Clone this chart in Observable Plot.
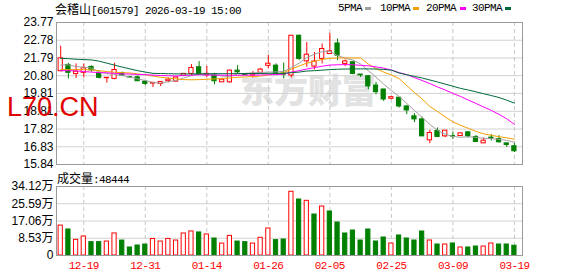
<!DOCTYPE html>
<html><head><meta charset="utf-8">
<script src="https://cdn.jsdelivr.net/npm/d3@7"></script>
<script src="https://cdn.jsdelivr.net/npm/@observablehq/plot@0.6"></script>
<style>
body{margin:0;background:#fff;}
#wrap{position:relative;width:578px;height:276px;overflow:hidden;background:#fff;}
.abs{position:absolute;white-space:nowrap;}
.mono{font-family:"Liberation Mono",monospace;font-size:11px;letter-spacing:-0.6px;line-height:15px;color:#000;}
.cjk{font-family:"Noto Sans CJK SC",sans-serif;font-size:12px;letter-spacing:0;}
.mk{position:absolute;height:3px;width:6px;top:7px;}
#wm{left:240px;top:72px;font-family:"Noto Sans CJK SC",sans-serif;font-weight:900;font-size:34px;line-height:34px;color:#e2e2e2;}
#red{left:7px;top:94px;font-family:"Liberation Sans",Arial,sans-serif;font-size:27px;line-height:27px;color:#e00000;z-index:5;}
#wrap svg{position:absolute;left:0;}
g[aria-label="x-axis tick label"] text{letter-spacing:-0.6px;}
</style>
</head><body>
<div id="wrap">
  <div id="wm" class="abs">东方财富</div>
  <div class="abs mono" style="left:55px;top:1px;"><span class="cjk">会稽山</span>[601579] 2026-03-19 15:00</div>
  <div class="abs mono" style="left:338px;top:1px;">5PMA</div>
  <div class="mk" style="left:365px;background:#a0a0a0;"></div>
  <div class="abs mono" style="left:380px;top:1px;">10PMA</div>
  <div class="mk" style="left:413px;background:#f5a000;"></div>
  <div class="abs mono" style="left:426px;top:1px;">20PMA</div>
  <div class="mk" style="left:460px;background:#ff00ff;"></div>
  <div class="abs mono" style="left:472px;top:1px;">30PMA</div>
  <div class="mk" style="left:505px;background:#00693a;"></div>
  <div class="abs mono" style="left:57px;top:170px;"><span class="cjk">成交量</span>:48444</div>
</div>
<script>
const dates = ["2025-12-16","2025-12-17","2025-12-18","2025-12-19","2025-12-22","2025-12-23","2025-12-24","2025-12-25","2025-12-26","2025-12-29","2025-12-30","2025-12-31","2026-01-05","2026-01-06","2026-01-07","2026-01-08","2026-01-09","2026-01-12","2026-01-13","2026-01-14","2026-01-15","2026-01-16","2026-01-19","2026-01-20","2026-01-21","2026-01-22","2026-01-23","2026-01-26","2026-01-27","2026-01-28","2026-01-29","2026-01-30","2026-02-02","2026-02-03","2026-02-04","2026-02-05","2026-02-06","2026-02-09","2026-02-10","2026-02-11","2026-02-12","2026-02-13","2026-02-24","2026-02-25","2026-02-26","2026-02-27","2026-03-02","2026-03-03","2026-03-04","2026-03-05","2026-03-06","2026-03-09","2026-03-10","2026-03-11","2026-03-12","2026-03-13","2026-03-16","2026-03-17","2026-03-18","2026-03-19"];

const open  = [21.05,21.40,20.89,20.96,21.29,20.96,20.66,20.62,20.93,20.72, 20.71,20.47,20.36,20.34,20.49,20.47,20.79,20.90,21.27,20.82, 20.86,20.43,20.43,21.08,20.86,20.82,20.96,21.35,21.36,20.92, 20.81,23.03,21.60,21.31,21.74,22.01,22.60,21.46,21.55,20.86, 20.77,20.25,20.03,19.51,19.57,19.08,18.53,18.36,17.19,17.71, 17.41,17.43,17.43,17.64,17.38,17.02,17.34,17.26,17.02,16.86];
const high  = [22.44,21.49,21.46,21.46,21.35,20.99,20.68,21.49,21.00,20.76, 20.78,20.53,20.42,20.46,20.67,20.75,20.93,21.42,21.59,21.32, 20.93,20.66,21.12,21.36,20.89,21.03,21.21,21.94,21.46,21.51, 23.03,23.07,22.66,22.10,22.57,23.16,22.85,21.68,21.56,20.86, 20.81,20.43,20.03,19.64,19.58,19.14,18.68,18.49,17.75,17.88, 17.73,17.65,17.60,17.64,17.45,17.32,17.51,17.45,17.04,17.01];
const low   = [21.02,20.62,20.64,20.68,21.00,20.62,20.38,20.57,20.75,20.65, 20.47,20.25,20.14,20.19,20.40,20.43,20.75,20.75,20.81,20.68, 20.29,20.43,20.38,20.90,20.81,20.68,20.90,21.18,20.82,20.62, 20.68,21.64,21.27,21.12,21.46,22.01,21.64,21.31,20.85,20.70, 20.01,19.73,19.36,19.46,18.99,18.62,18.18,17.41,17.01,17.34, 17.34,17.23,17.43,17.32,17.06,17.02,17.15,17.04,16.79,16.51];
const close = [21.77,20.96,21.02,21.21,21.10,20.68,20.68,21.12,20.81,20.70, 20.49,20.34,20.40,20.45,20.58,20.70,20.90,21.23,20.86,20.90, 20.49,20.58,21.08,20.99,20.83,20.90,21.14,21.47,20.90,20.86, 23.03,21.74,21.97,21.59,22.29,22.16,21.92,21.60,20.90,20.82, 20.20,19.88,19.47,19.60,19.08,18.86,18.36,17.41,17.60,17.38, 17.73,17.40,17.58,17.41,17.10,17.17,17.30,17.08,16.93,16.58];

const volume = [148000,128600,77500,94000,66000,66000,69000,109000,74000,39600, 49500,54000,82000,69000,82000,74000,109000,119000,114000,104000, 84000,59000,97000,69000,66000,59000,87500,133500,76000,79000, 315000,276900,270400,202700,242300,217600,163200,108800,123600,74200, 128600,69200,89000,59300,98900,84000,74200,118700,74200,54400, 54400,59300,39600,39600,44500,44500,59300,54400,54400,48444];
const volUp = [1,0,1,1,0,0,1,1,0,0, 0,0,1,1,1,1,1,1,0,1, 0,1,1,0,0,1,1,1,0,0, 1,0,1,0,1,0,0,0,0,0, 0,0,0,1,0,0,0,0,1,0, 1,0,1,0,0,1,1,0,0,0];

const ma5  = [21.40,21.40,21.31,21.28,21.22,21.00,20.92,20.86,20.81,20.72, 20.62,20.53,20.42,20.39,20.47,20.53,20.67,20.81,20.90,20.90, 20.86,20.78,20.75,20.89,20.93,20.96,20.98,21.00,21.01,21.04, 21.25,21.50,21.81,22.00,22.14,22.17,21.92,21.78,21.67,21.45, 21.08,20.72,20.33,19.97,19.64,19.25,18.86,18.47,18.08,17.75, 17.53,17.41,17.36,17.39,17.36,17.30,17.28,17.25,17.19,17.08];
const ma10 = [21.14,21.14,21.14,21.14,21.12,21.08,21.03,20.99,20.97,20.95, 20.90,20.85,20.78,20.71,20.67,20.62,20.58,20.57,20.58,20.60, 20.62,20.64,20.67,20.71,20.73,20.75,20.78,20.84,20.90,20.97, 21.17,21.34,21.50,21.61,21.71,21.77,21.79,21.79,21.79,21.79, 21.45,21.20,21.00,20.84,20.64,20.25,19.86,19.50,19.08,18.80, 18.50,18.22,18.03,17.86,17.69,17.55,17.47,17.39,17.33,17.25];
const ma20 = [21.08,21.08,21.07,21.03,21.00,20.97,20.96,20.93,20.90,20.89, 20.87,20.86,20.83,20.81,20.80,20.78,20.81,20.83,20.85,20.84, 20.83,20.83,20.82,20.82,20.83,20.83,20.84,20.85,20.86,20.89, 21.00,21.08,21.17,21.25,21.33,21.39,21.41,21.42,21.41,21.38, 21.35,21.29,21.22,21.12,20.97,20.86,20.69,20.53,20.36,20.17, 20.00,19.81,19.64,19.44,19.25,19.05,18.86,18.64,18.39,18.08];
const ma30 = [21.77,21.75,21.72,21.70,21.68,21.61,21.50,21.39,21.28,21.18, 21.08,21.00,20.93,20.92,20.91,20.90,20.90,20.90,20.90,20.91, 20.91,20.91,20.91,20.92,20.92,20.92,20.92,20.93,20.93,20.93, 20.97,21.00,21.06,21.08,21.11,21.14,21.16,21.17,21.18,21.18, 21.18,21.17,21.15,21.11,20.95,20.85,20.76,20.67,20.56,20.45, 20.33,20.21,20.09,20.00,19.90,19.79,19.69,19.58,19.43,19.27];

const tickDates = ["2025-12-19","2025-12-31","2026-01-14","2026-01-26","2026-02-05","2026-02-25","2026-03-09","2026-03-19"];
const priceTicks = [15.84,16.83,17.82,18.81,19.81,20.80,21.79,22.78,23.77];
const volTicks = [0,85300,170600,255900,341200];

const RED = "#ff0000", GREEN = "#008000";
const rows = dates.map((date,i)=>({date, open:open[i], high:high[i], low:low[i], close:close[i], vol:volume[i], up: close[i] >= open[i], vup: volUp[i] === 1}));
const maSeries = [["5PMA", ma5, "#a0a0a0"],["10PMA", ma10, "#f5a000"],["20PMA", ma20, "#ff00ff"],["30PMA", ma30, "#00693a"]];

const xScale = {type:"band", domain:dates, paddingInner:0.45, paddingOuter:0.525, align:0.26, round:false, axis:null};
const common = {width:578, marginLeft:56, marginRight:56, style:{background:"transparent", overflow:"visible"}};

const price = Plot.plot({
  ...common, height:166, marginTop:22, marginBottom:2,
  x: xScale,
  y: {domain:[15.84,23.77], axis:null},
  marks: [
    Plot.ruleY(priceTicks, {stroke:"#d2d2d2"}),
    Plot.ruleX(tickDates, {stroke:"#c8c8c8", strokeDasharray:"4,3"}),
    Plot.ruleX(rows, {x:"date", y1:"low", y2:"high", stroke:d=>d.up?RED:GREEN, strokeWidth:1}),
    Plot.barY(rows, {x:"date", y1:"open", y2:"close", fill:d=>d.up?"#fff":GREEN, stroke:d=>d.up?RED:GREEN, strokeWidth:1}),
    ...maSeries.map(([name, arr, color]) => Plot.lineY(dates.map((d,i)=>({date:d, v:arr[i]})), {x:"date", y:"v", stroke:color, strokeWidth:1})),
    Plot.frame({stroke:"#9a9a9a"}),
    Plot.axisY(priceTicks, {anchor:"left", tickSize:0, tickPadding:3, label:null, tickFormat:d=>d.toFixed(2), fontSize:12, fontFamily:"Liberation Sans, Arial, sans-serif", color:"#000"})
  ]
});
price.style.top = "0px";

const vol = Plot.plot({
  ...common, height:106, marginTop:16, marginBottom:21,
  x: xScale,
  y: {domain:[0,341200], axis:null},
  marks: [
    Plot.ruleY(volTicks, {stroke:"#d2d2d2"}),
    Plot.ruleX(tickDates, {stroke:"#c8c8c8", strokeDasharray:"4,3"}),
    Plot.barY(rows, {x:"date", y:"vol", fill:d=>d.vup?"#fff":GREEN, stroke:d=>d.vup?RED:GREEN, strokeWidth:1}),
    Plot.frame({stroke:"#9a9a9a"}),
    Plot.axisY(volTicks, {anchor:"left", tickSize:0, tickPadding:3, label:null, tickFormat:d=>d===0?"0":(d/10000).toFixed(2)+"万", fontSize:12, fontFamily:"Liberation Sans, Noto Sans CJK SC, sans-serif", color:"#000"}),
    Plot.axisX(tickDates, {anchor:"bottom", tickSize:0, tickPadding:6, label:null, tickFormat:d=>d.slice(5), fontSize:11, fontFamily:"Liberation Mono, monospace", color:RED})
  ]
});
vol.style.top = "170px";

const wrap = document.getElementById("wrap");
wrap.appendChild(price);
wrap.appendChild(vol);
const red = document.createElement("div");
red.id = "red"; red.className = "abs"; red.textContent = "L70.CN";
wrap.appendChild(red);
</script>
</body></html>
